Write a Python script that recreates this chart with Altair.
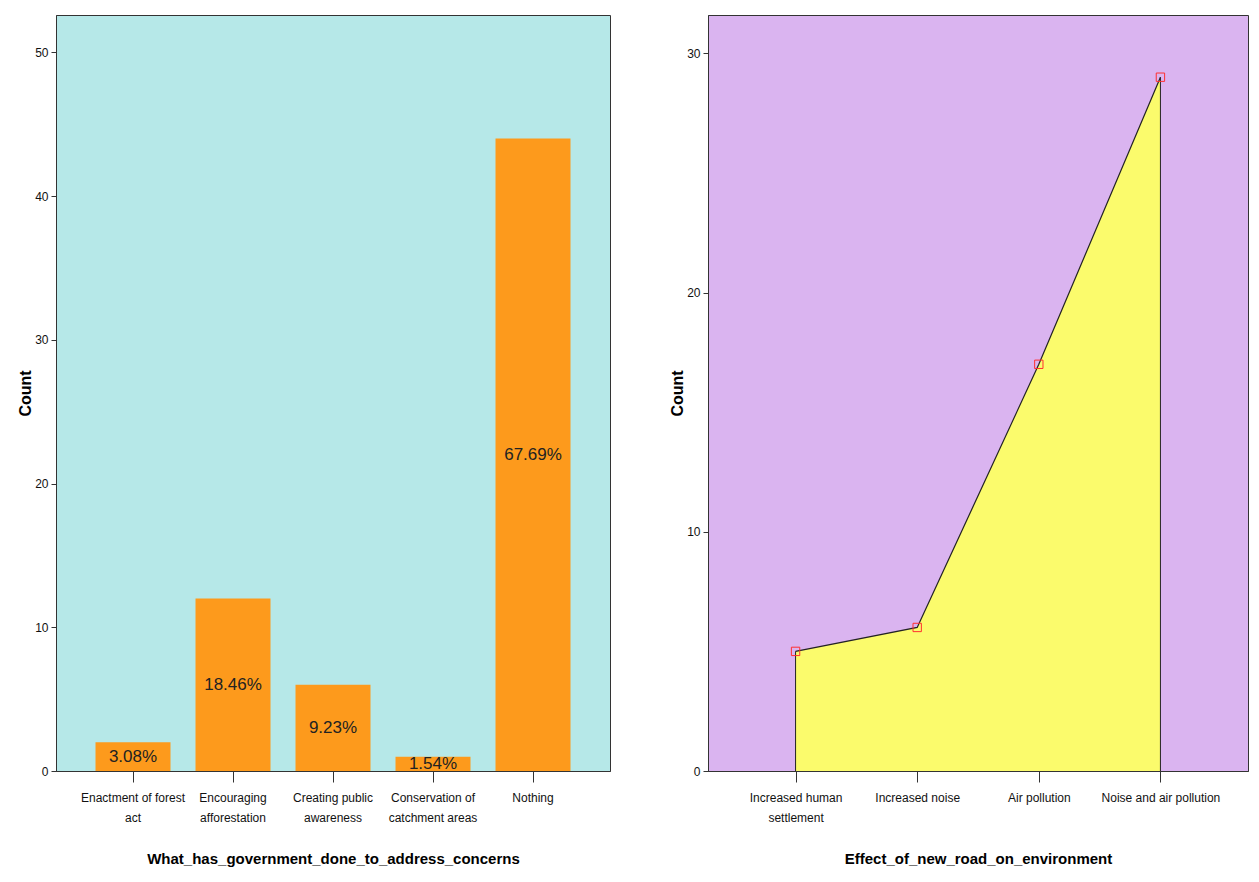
import altair as alt
import pandas as pd

# Left chart data
gov_categories = ["Enactment of forest act", "Encouraging afforestation",
                  "Creating public awareness", "Conservation of catchment areas", "Nothing"]
gov_label_lines = [["Enactment of forest", "act"], ["Encouraging", "afforestation"],
                   ["Creating public", "awareness"], ["Conservation of", "catchment areas"], ["Nothing"]]
gov_counts = [2, 12, 6, 1, 44]
gov_pct = ["3.08%", "18.46%", "9.23%", "1.54%", "67.69%"]

# Right chart data
road_categories = ["Increased human settlement", "Increased noise", "Air pollution", "Noise and air pollution"]
road_label_lines = [["Increased human", "settlement"], ["Increased noise"], ["Air pollution"], ["Noise and air pollution"]]
road_counts = [5, 6, 17, 29]

FONT = "Liberation Sans, Arial, sans-serif"


def label_expr(cats, lines):
    expr = "datum.label"
    for c, l in reversed(list(zip(cats, lines))):
        arr = "[" + ", ".join("'" + s + "'" for s in l) + "]"
        expr = f"datum.label == '{c}' ? {arr} : ({expr})"
    return expr


df_gov = pd.DataFrame({"cat": gov_categories, "count": gov_counts, "pct": gov_pct})
df_road = pd.DataFrame({"cat": road_categories, "count": road_counts})

x_axis_common = dict(labelFont=FONT, labelFontSize=12, labelColor="#111", labelLineHeight=20,
                     labelAngle=0, tickSize=11, tickColor="#333", domainColor="#333",
                     titleFont=FONT, titleFontSize=15, titleFontWeight="bold", titleColor="#000",
                     titlePadding=28, labelPadding=10)
y_axis_common = dict(labelFont=FONT, labelFontSize=12, labelColor="#111", tickSize=5,
                     tickColor="#333", domainColor="#333", grid=False,
                     titleFont=FONT, titleFontSize=16,
                     titleFontWeight="bold", titleColor="#000", titlePadding=1, labelPadding=3)

base_left = alt.Chart(df_gov)
x_left = alt.X("cat:N", sort=gov_categories,
               scale=alt.Scale(paddingInner=0.25, paddingOuter=0.395),
               axis=alt.Axis(title="What_has_government_done_to_address_concerns",
                             labelExpr=label_expr(gov_categories, gov_label_lines), **x_axis_common))
bars = base_left.mark_bar(color="#fd9a1c").encode(
    x=x_left,
    y=alt.Y("count:Q", scale=alt.Scale(domain=[0, 52.6], nice=False),
            axis=alt.Axis(title="Count", values=[0, 10, 20, 30, 40, 50], **y_axis_common)),
)
texts = base_left.transform_calculate(half="datum.count / 2").mark_text(
    font=FONT, fontSize=17, color="#222", baseline="middle"
).encode(x=alt.X("cat:N", sort=gov_categories), y=alt.Y("half:Q"), text="pct:N")

left = alt.layer(bars, texts).properties(
    width=554, height=756,
    view=alt.ViewBackground(fill="#b6e8e8", stroke="#333", strokeWidth=1),
)

base_right = alt.Chart(df_road)
x_right = alt.X("cat:N", sort=road_categories, scale=alt.Scale(type="point", padding=0.72),
                axis=alt.Axis(title="Effect_of_new_road_on_environment",
                              labelExpr=label_expr(road_categories, road_label_lines), **x_axis_common))
y_right = alt.Y("count:Q", scale=alt.Scale(domain=[0, 31.6], nice=False),
                axis=alt.Axis(title="Count", values=[0, 10, 20, 30], **y_axis_common))
area = base_right.mark_area(color="#fbfb6c", opacity=1,
                            line={"color": "#222", "strokeWidth": 1.2}).encode(x=x_right, y=y_right)
rules = base_right.mark_rule(color="#222", strokeWidth=1).encode(
    x=alt.X("cat:N", sort=road_categories), y=alt.Y("count:Q"), y2=alt.datum(0)
).transform_filter(
    alt.FieldOneOfPredicate(field="cat", oneOf=[road_categories[0], road_categories[-1]]))
points = base_right.mark_point(shape="square", filled=False, color="#ff3030", size=70,
                               strokeWidth=1, opacity=1).encode(x=alt.X("cat:N", sort=road_categories),
                                                                y=alt.Y("count:Q"))
right = alt.layer(area, rules, points).properties(
    width=540, height=756,
    view=alt.ViewBackground(fill="#dab4f0", stroke="#333", strokeWidth=1),
)

chart = alt.hconcat(left, right, spacing=58).properties(
    padding={"left": 9, "top": 6, "right": 0, "bottom": 0}
).configure(background="white")

chart.save("out.html", embed_options={"renderer": "svg", "actions": False})
